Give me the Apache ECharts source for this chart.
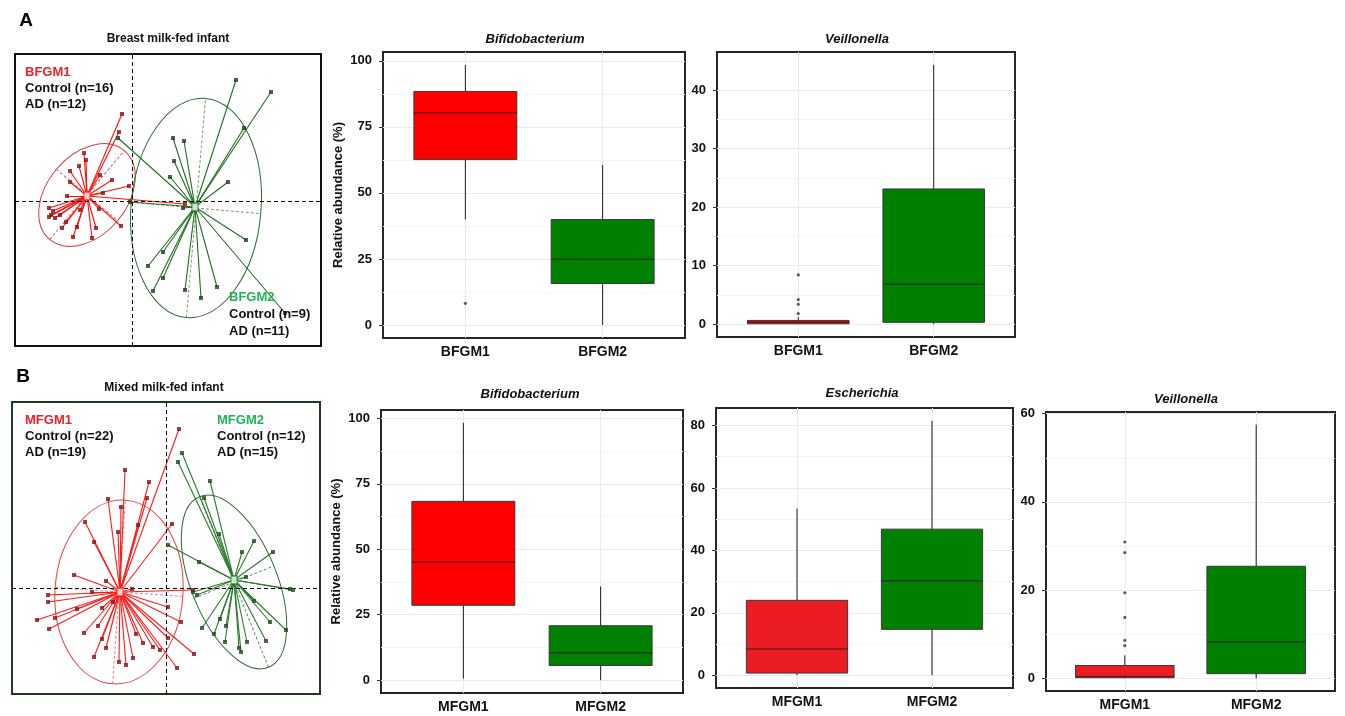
<!DOCTYPE html>
<html><head><meta charset="utf-8">
<script src="https://cdn.jsdelivr.net/npm/echarts@6/dist/echarts.min.js"></script>
<style>html,body{margin:0;padding:0;background:#fff}#c{width:1345px;height:716px}</style>
</head><body><div id="c"></div>
<script>
const FONT = '"Liberation Sans", Arial, Helvetica, sans-serif';

// ---------- Panel A: PCA, breast milk-fed infants (scores x100) ----------
const aRedCentroid = [-45, 5];
const aRedPoints = [[-10,87],[-13,69],[-48,48],[-46,41],[-53,35],[-62,30],[-32,26],[-65,5],[-83,-7],[-81,-14],
  [-83,-16],[-77,-17],[-72,-14],[-70,-27],[-59,-36],[-40,-37],[-33,-8],[-11,-25],[-3,15],[-52,-9],
  [-55,-26],[53,-3],[-79,-10],[-36,-27],[-66,-21],[-20,21],[-62,19],[-29,8]];
const aGreenCentroid = [63, -6];
const aGreenPoints = [[104,121],[139,109],[112,73],[41,63],[52,60],[42,40],[38,24],[96,19],[-14,63],[114,-39],
  [31,-51],[16,-65],[31,-77],[21,-90],[69,-97],[85,-86],[53,-89],[153,-112],[-2,-1],[51,-7]];
// ellipse: centre x, centre y, semi-major, semi-minor, angle (deg)
const aEllipses = [[-45, 6, 58, 40, 50], [64, -7, 110, 65, 85]];

// ---------- Panel B: PCA, mixed milk-fed infants ----------
const bRedCentroid = [-46, -4];
const bRedPoints = [[13,159],[-41,118],[-17,106],[-58,89],[-19,90],[-45,81],[-81,66],[-28,63],[6,64],[-48,56],
  [-72,46],[-92,13],[-60,7],[-118,-7],[-118,-14],[-74,-4],[-34,-1],[-89,-21],[-111,-30],[-129,-32],
  [-117,-41],[-64,-20],[2,-19],[15,-34],[-82,-45],[-68,-38],[-64,-51],[-60,-60],[-72,-69],[-47,-74],
  [-33,-70],[-23,-55],[-13,-59],[-6,-62],[28,-66],[27,-2],[11,-80],[-53,-14],[-40,-77],[-30,-46],[2,-50]];
const bGreenCentroid = [68, 8];
const bGreenPoints = [[16,135],[12,126],[44,107],[38,90],[53,54],[88,47],[107,36],[76,36],[33,26],[80,11],
  [2,43],[127,-2],[124,-1],[31,-7],[27,-4],[88,-13],[104,-34],[120,-42],[54,-31],[60,-38],
  [36,-40],[48,-46],[73,-60],[81,-54],[100,-53],[75,-64],[59,-54]];
const bEllipses = [[-47, -4, 92, 64, 86], [68, 6, 92, 43, 112]];

// ---------- Box plots: [min, Q1, median, Q3, max] ----------
const catsA = ['BFGM1', 'BFGM2'];
const catsB = ['MFGM1', 'MFGM2'];
const bifidoA = [[40.0, 62.6, 80.3, 88.4, 98.4], [0, 15.7, 24.9, 39.9, 60.6]];
const bifidoAOut = [[8.2], []];
const veilA = [[0, 0.06, 0.3, 0.63, 1.2], [0, 0.3, 6.8, 23.1, 44.3]];
const veilAOut = [[8.4, 4.2, 3.4, 1.8], []];
const bifidoB = [[0.6, 28.6, 45.0, 68.3, 98.3], [0, 5.6, 10.5, 20.8, 35.8]];
const bifidoBOut = [[], []];
const escherB = [[0, 0.7, 8.4, 24.0, 53.4], [0, 14.7, 30.3, 46.8, 81.5]];
const escherBOut = [[], []];
const veilB = [[0, 0.15, 0.4, 2.9, 5.2], [0, 1.05, 8.2, 25.4, 57.5]];
const veilBOut = [[30.9, 28.5, 19.4, 13.8, 8.6, 7.4], []];

const ticksPct = [0, 25, 50, 75, 100];
const ticksVeilA = [0, 10, 20, 30, 40];
const ticksEsch = [0, 20, 40, 60, 80];
const ticksVeilB = [0, 20, 40, 60];

// ---------- builders ----------
const grids = [], xAxes = [], yAxes = [], series = [];

function pcaPanel(rect, xr, yr, border, groups, ellipses) {
  const gi = grids.length;
  grids.push({left: rect[0], top: rect[1], width: rect[2], height: rect[3], show: true,
    borderColor: border, borderWidth: 2, backgroundColor: 'transparent'});
  xAxes.push({gridIndex: gi, type: 'value', min: xr[0], max: xr[1], show: false});
  yAxes.push({gridIndex: gi, type: 'value', min: yr[0], max: yr[1], show: false});
  // crosshair
  series.push({type: 'scatter', xAxisIndex: gi, yAxisIndex: gi, data: [], silent: true,
    markLine: {silent: true, symbol: 'none', animation: false, label: {show: false},
      lineStyle: {color: '#000', width: 1, type: [4, 3]},
      data: [{xAxis: 0}, {yAxis: 0}]}});
  // ellipses with their axes
  series.push({type: 'custom', xAxisIndex: gi, yAxisIndex: gi, data: ellipses, silent: true, z: 3,
    encode: {x: 0, y: 1},
    renderItem: function (params, api) {
      const g = groups[params.dataIndex];
      const c = api.coord([api.value(0), api.value(1)]);
      const rx = api.size([api.value(2), 0])[0];
      const ry = api.size([0, api.value(3)])[1];
      return {type: 'group', x: c[0], y: c[1], rotation: api.value(4) * Math.PI / 180, children: [
        {type: 'ellipse', shape: {cx: 0, cy: 0, rx: rx, ry: ry}, style: {fill: 'none', stroke: g.ell, lineWidth: 1}},
        {type: 'line', shape: {x1: -rx, y1: 0, x2: rx, y2: 0}, style: {stroke: g.dash, lineWidth: 1, lineDash: [3, 2]}},
        {type: 'line', shape: {x1: 0, y1: -ry, x2: 0, y2: ry}, style: {stroke: g.dash, lineWidth: 1, lineDash: [3, 2]}}
      ]};
    }});
  groups.forEach(function (g) {
    series.push({type: 'lines', coordinateSystem: 'cartesian2d', xAxisIndex: gi, yAxisIndex: gi, silent: true, z: 4,
      lineStyle: {color: g.spoke, width: 1.1, opacity: 1},
      data: g.points.map(function (p) { return {coords: [g.centroid, p]}; })});
    series.push({type: 'scatter', xAxisIndex: gi, yAxisIndex: gi, silent: true, z: 5,
      symbol: 'rect', symbolSize: 4, itemStyle: {color: g.dot}, data: g.points});
  });
  groups.forEach(function (g) {
    series.push({type: 'scatter', xAxisIndex: gi, yAxisIndex: gi, silent: true, z: 6,
      symbol: 'rect', symbolSize: [6, 8], itemStyle: {color: '#fff', borderColor: g.spoke, borderWidth: 1.2},
      data: [g.centroid]});
  });
}

function boxPanel(rect, cats, stats, outliers, ticks, yr, colors, yName) {
  const gi = grids.length;
  grids.push({left: rect[0], top: rect[1], width: rect[2], height: rect[3], show: true,
    borderColor: '#262626', borderWidth: 2, backgroundColor: 'transparent'});
  xAxes.push({gridIndex: gi, type: 'value', min: 0.4, max: 2.6,
    axisLine: {show: false}, splitLine: {show: false},
    axisTick: {show: true, length: 4, customValues: [1, 2], lineStyle: {color: '#333'}},
    axisLabel: {customValues: [1, 2], margin: 7, color: '#111', fontFamily: FONT, fontWeight: 'bold', fontSize: 14,
      formatter: function (v) { return cats[Math.round(v) - 1]; }}});
  const yAx = {gridIndex: gi, type: 'value', min: yr[0], max: yr[1],
    axisLine: {show: false}, splitLine: {show: false},
    axisTick: {show: true, length: 4, customValues: ticks, lineStyle: {color: '#333'}},
    axisLabel: {customValues: ticks, margin: 11, color: '#111', fontFamily: FONT, fontWeight: 'bold', fontSize: 13}};
  if (yName) {
    Object.assign(yAx, {name: yName, nameLocation: 'middle', nameGap: 38, nameRotate: 90,
      nameTextStyle: {color: '#111', fontFamily: FONT, fontWeight: 'bold', fontSize: 13}});
  }
  yAxes.push(yAx);
  // faint background grid lines (major, minor, category)
  const lines = [];
  ticks.forEach(function (t, i) {
    lines.push({yAxis: t, lineStyle: {color: '#ebebeb'}});
    if (i < ticks.length - 1) lines.push({yAxis: (t + ticks[i + 1]) / 2, lineStyle: {color: '#f4f4f4'}});
  });
  lines.push({xAxis: 1, lineStyle: {color: '#ebebeb'}});
  lines.push({xAxis: 2, lineStyle: {color: '#ebebeb'}});
  series.push({type: 'scatter', xAxisIndex: gi, yAxisIndex: gi, data: [], silent: true,
    markLine: {silent: true, symbol: 'none', animation: false, label: {show: false},
      lineStyle: {width: 1, type: 'solid'}, data: lines}});
  // boxes
  series.push({type: 'custom', xAxisIndex: gi, yAxisIndex: gi, silent: true, z: 10,
    encode: {x: 0, y: [1, 2, 3, 4, 5]},
    data: stats.map(function (s, i) { return [i + 1].concat(s); }),
    renderItem: function (params, api) {
      const x = api.value(0);
      const lo = api.coord([x, api.value(1)]), q1 = api.coord([x, api.value(2)]),
        md = api.coord([x, api.value(3)]), q3 = api.coord([x, api.value(4)]), hi = api.coord([x, api.value(5)]);
      const half = api.size([0.75, 0])[0] / 2;
      return {type: 'group', children: [
        {type: 'line', shape: {x1: lo[0], y1: lo[1], x2: q1[0], y2: q1[1]}, style: {stroke: '#1a1a1a', lineWidth: 1}},
        {type: 'line', shape: {x1: q3[0], y1: q3[1], x2: hi[0], y2: hi[1]}, style: {stroke: '#1a1a1a', lineWidth: 1}},
        {type: 'rect', shape: {x: q1[0] - half, y: q3[1], width: half * 2, height: Math.max(q1[1] - q3[1], 2)},
          style: {fill: colors[params.dataIndex], stroke: '#3a3a3a', lineWidth: 1}},
        {type: 'line', shape: {x1: md[0] - half, y1: md[1], x2: md[0] + half, y2: md[1]},
          style: {stroke: 'rgba(40,20,20,0.6)', lineWidth: 1.5}}
      ]};
    }});
  const out = [];
  outliers.forEach(function (arr, i) { arr.forEach(function (v) { out.push([i + 1, v]); }); });
  series.push({type: 'scatter', xAxisIndex: gi, yAxisIndex: gi, silent: true, z: 11,
    symbol: 'circle', symbolSize: 3.2, itemStyle: {color: '#333'}, data: out});
}

const RED = '#ff0000', RED2 = '#ec1c24', GREEN = '#008000';

pcaPanel([15, 54, 306, 292], [-117, 189], [-145, 147], '#111', [
  {centroid: aRedCentroid, points: aRedPoints, spoke: '#ff1010', dot: '#8a1010', ell: '#d83a3a', dash: '#e06060'},
  {centroid: aGreenCentroid, points: aGreenPoints, spoke: '#1f6f1f', dot: '#1b3f1b', ell: '#2f6a2f', dash: '#7a9a7a'}
], aEllipses);
boxPanel([383, 52, 302, 286], catsA, bifidoA, bifidoAOut, ticksPct, [-4.92, 103.32], [RED, GREEN], 'Relative abundance (%)');
boxPanel([717, 52, 298, 285], catsA, veilA, veilAOut, ticksVeilA, [-2.2, 46.5], [RED, GREEN], null);
pcaPanel([12, 402, 308, 292], [-154, 154], [-106, 186], '#1d3a1d', [
  {centroid: bRedCentroid, points: bRedPoints, spoke: '#ff1a1a', dot: '#8a1010', ell: '#e04040', dash: '#e88080'},
  {centroid: bGreenCentroid, points: bGreenPoints, spoke: '#2a7a2a', dot: '#1b4a1b', ell: '#2f6a2f', dash: '#6a8a6a'}
], bEllipses);
boxPanel([381, 410, 302, 283], catsB, bifidoB, bifidoBOut, ticksPct, [-4.9, 103.2], [RED, GREEN], 'Relative abundance (%)');
boxPanel([716, 408, 297, 280], catsB, escherB, escherBOut, ticksEsch, [-4.08, 85.6], [RED2, GREEN], null);
boxPanel([1046, 412, 289, 279], catsB, veilB, veilBOut, ticksVeilB, [-2.875, 60.375], [RED2, GREEN], null);

function txt(x, y, s, opts) {
  opts = opts || {};
  return {type: 'text', x: x, y: y, z: 100, silent: true, style: {
    text: s, fill: opts.color || '#111', align: opts.align || 'left', verticalAlign: 'middle',
    font: (opts.italic ? 'italic ' : '') + 'bold ' + (opts.size || 13) + 'px ' + FONT}};
}
const GLABEL = '#1fb35a';
const graphics = [
  txt(26, 21, 'A', {size: 19, align: 'center', color: '#000'}),
  txt(23, 377, 'B', {size: 19, align: 'center', color: '#000'}),
  txt(168, 39, 'Breast milk-fed infant', {size: 12, align: 'center'}),
  txt(164, 388, 'Mixed milk-fed infant', {size: 12, align: 'center'}),
  txt(25, 72, 'BFGM1', {color: '#f0202a'}),
  txt(25, 88, 'Control (n=16)'),
  txt(25, 104, 'AD (n=12)'),
  txt(229, 297, 'BFGM2', {color: GLABEL}),
  txt(229, 314, 'Control (n=9)'),
  txt(229, 331, 'AD (n=11)'),
  txt(25, 420, 'MFGM1', {color: '#f0202a'}),
  txt(25, 436, 'Control (n=22)'),
  txt(25, 452, 'AD (n=19)'),
  txt(217, 420, 'MFGM2', {color: GLABEL}),
  txt(217, 436, 'Control (n=12)'),
  txt(217, 452, 'AD (n=15)'),
  txt(535, 39, 'Bifidobacterium', {italic: true, align: 'center'}),
  txt(857, 39, 'Veillonella', {italic: true, align: 'center'}),
  txt(530, 394, 'Bifidobacterium', {italic: true, align: 'center'}),
  txt(862, 393, 'Escherichia', {italic: true, align: 'center'}),
  txt(1186, 399, 'Veillonella', {italic: true, align: 'center'})
];

const chart = echarts.init(document.getElementById('c'), null, {renderer: 'canvas'});
chart.setOption({
  animation: false,
  backgroundColor: '#fff',
  grid: grids, xAxis: xAxes, yAxis: yAxes, series: series, graphic: graphics
});
</script></body></html>
